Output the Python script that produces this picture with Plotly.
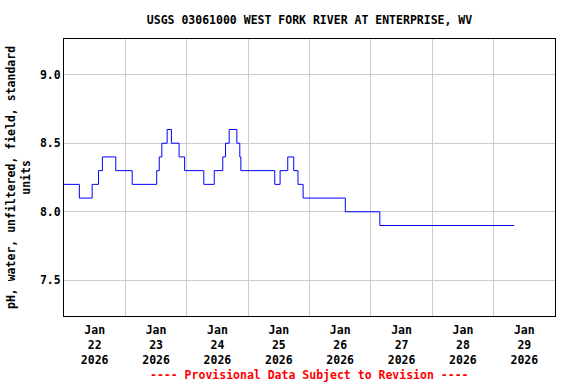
import plotly.graph_objects as go

# change points of the step series (time, pH)
times = [
    "2026-01-22 00:00", "2026-01-22 06:00", "2026-01-22 11:00", "2026-01-22 13:30",
    "2026-01-22 15:00", "2026-01-22 20:15", "2026-01-23 02:40", "2026-01-23 12:15",
    "2026-01-23 13:15", "2026-01-23 14:15", "2026-01-23 16:20", "2026-01-23 18:00",
    "2026-01-23 21:00", "2026-01-23 23:10", "2026-01-24 06:40", "2026-01-24 10:45",
    "2026-01-24 14:05", "2026-01-24 15:10", "2026-01-24 16:35", "2026-01-24 19:35",
    "2026-01-24 20:45", "2026-01-24 21:10", "2026-01-25 10:25", "2026-01-25 12:30",
    "2026-01-25 15:30", "2026-01-25 17:50", "2026-01-25 19:30", "2026-01-25 21:30",
    "2026-01-26 14:00", "2026-01-27 03:30", "2026-01-29 08:00",
]
ph = [
    8.2, 8.1, 8.2, 8.3,
    8.4, 8.3, 8.2, 8.3,
    8.4, 8.5, 8.6, 8.5,
    8.4, 8.3, 8.2, 8.3,
    8.4, 8.5, 8.6, 8.5,
    8.4, 8.3, 8.2, 8.3,
    8.4, 8.3, 8.2, 8.1,
    8.0, 7.9, 7.9,
]

day_grid = ["2026-01-%02d 00:00" % d for d in range(22, 31)]
label_pos = ["2026-01-%02d 12:00" % d for d in range(22, 30)]
label_text = ["Jan<br>%d<br>2026" % d for d in range(22, 30)]
y_ticks = [7.5, 8.0, 8.5, 9.0]
y_labels = ["7.5", "8.0", "8.5", "9.0"]

FONT = "DejaVu Sans Mono"
fs = 11.5

fig = go.Figure()
fig.add_trace(go.Scatter(
    x=times, y=ph, mode="lines", line=dict(color="#0000ff", width=1, shape="hv"),
    showlegend=False, hoverinfo="skip",
))

fig.update_layout(
    width=576, height=384,
    margin=dict(l=64, r=21, t=39, b=68, autoexpand=False),
    paper_bgcolor="white", plot_bgcolor="white",
    font=dict(family=FONT, size=fs, color="black", weight="bold"),
    title=dict(text="USGS 03061000 WEST FORK RIVER AT ENTERPRISE, WV",
               x=(64 + 555) / 2 / 576, xanchor="center",
               y=1 - 20 / 384, yanchor="middle",
               font=dict(family=FONT, size=fs, color="black", weight="bold")),
    xaxis=dict(
        range=[day_grid[0], day_grid[-1]], automargin=False,
        tickmode="array", tickvals=label_pos, ticktext=label_text,
        showgrid=False, ticks="", zeroline=False, ticklabelstandoff=3,
        showline=True, linecolor="black", linewidth=1, mirror=True,
        minor=dict(tickmode="array", tickvals=day_grid, showgrid=True,
                   gridcolor="#cccccc", gridwidth=1, ticks=""),
        tickfont=dict(family=FONT, size=fs, color="black", weight="bold"),
    ),
    yaxis=dict(
        range=[7.24, 9.26], automargin=False,
        tickmode="array", tickvals=y_ticks, ticktext=y_labels,
        showgrid=True, gridcolor="#cccccc", gridwidth=1, ticks="", zeroline=False,
        showline=True, linecolor="black", linewidth=1, mirror=True,
        tickfont=dict(family=FONT, size=fs, color="black", weight="bold"),
    ),
)

fig.add_annotation(
    text="pH, water, unfiltered, field, standard<br>units",
    xref="paper", yref="paper", x=(18.5 - 64) / 491, y=0.5,
    xanchor="center", yanchor="middle", textangle=-90, showarrow=False,
    font=dict(family=FONT, size=fs, color="black", weight="bold"),
)
fig.add_annotation(
    text="---- Provisional Data Subject to Revision ----",
    xref="paper", yref="paper", x=0.5, y=(316 - 375) / 277,
    xanchor="center", yanchor="middle", showarrow=False,
    font=dict(family=FONT, size=fs, color="red", weight="bold"),
)

fig.write_html("out.html", config={"displayModeBar": False},
               post_script="document.body.style.margin='0';")
